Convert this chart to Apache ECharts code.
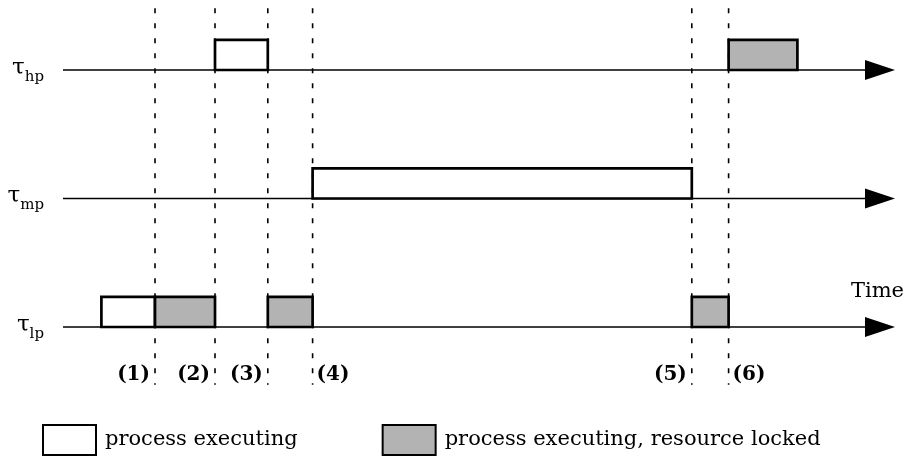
<!DOCTYPE html>
<html><head><meta charset="utf-8">
<script src="https://cdn.jsdelivr.net/npm/echarts@6/dist/echarts.min.js"></script>
<style>html,body{margin:0;padding:0;background:#fff}#c{width:908px;height:457px}</style>
</head><body><div id="c"></div>
<script>
// ---- Data ----
const rowNames = ['lp', 'mp', 'hp'];          // row values 1, 2, 3
const rowValues = [1, 2, 3];
const timeRange = [0, 52];
// [start, end, row]
const executing = [
  [2.4, 5.75, 1],
  [9.5, 12.8, 3],
  [15.6, 39.3, 2]
];
const locked = [
  [5.75, 9.5, 1],
  [12.8, 15.6, 1],
  [39.3, 41.6, 1],
  [41.6, 45.9, 3]
];
const events = [5.75, 9.5, 12.8, 15.6, 39.3, 41.6];
const eventLabels = ['(1)', '(2)', '(3)', '(4)', '(5)', '(6)'];
const seriesNames = ['process executing', 'process executing, resource locked'];
const axisName = 'Time';

// ---- Rendering ----
const FONT = 'DejaVu Serif';
const BOX_H = 0.235;
const DASH_TOP = 3.48, DASH_BOTTOM = 0.55, LABEL_ROW = 0.625;
const labelSide = ['left', 'left', 'left', 'right', 'left', 'right'];
const GRAY = '#b3b3b3';

function boxRenderer(fill) {
  return function (params, api) {
    const a = api.coord([api.value(0), api.value(2)]);
    const b = api.coord([api.value(1), api.value(2) + BOX_H]);
    return {
      type: 'rect',
      shape: { x: a[0], y: b[1], width: b[0] - a[0], height: a[1] - b[1] },
      style: { fill: fill, stroke: '#000', lineWidth: 2.7 }
    };
  };
}

const chart = echarts.init(document.getElementById('c'), null, { renderer: 'canvas' });
chart.setOption({
  animation: false,
  backgroundColor: '#fff',
  grid: { left: 63, right: 13, top: 70, bottom: 130 },
  xAxis: {
    type: 'value', min: timeRange[0], max: timeRange[1],
    axisLine: { show: false }, axisTick: { show: false }, axisLabel: { show: false }, splitLine: { show: false },
    name: axisName, nameLocation: 'end', nameGap: 9,
    nameTextStyle: { fontFamily: FONT, fontSize: 21, color: '#000', align: 'right', verticalAlign: 'bottom', padding: [0, 0, 25, 0] }
  },
  yAxis: {
    type: 'value', min: 1, max: 3, interval: 1,
    axisLine: { show: false }, axisTick: { show: false }, splitLine: { show: false },
    axisLabel: {
      margin: 19,
      formatter: v => '{t|τ}{s|' + rowNames[rowValues.indexOf(v)] + '}',
      rich: {
        t: { fontFamily: FONT, fontSize: 23, color: '#000', padding: [0, 0, 4, 0] },
        s: { fontFamily: FONT, fontSize: 15, color: '#000', padding: [14, 0, 0, 0] }
      }
    }
  },
  legend: {
    left: 42, top: 424, padding: 0, itemWidth: 53, itemHeight: 30, itemGap: 84, icon: 'rect',
    selectedMode: false,
    textStyle: { fontFamily: FONT, fontSize: 21, color: '#000', padding: [0, 0, 0, 4] },
    data: [
      { name: seriesNames[0], itemStyle: { color: '#fff', borderColor: '#000', borderWidth: 2 } },
      { name: seriesNames[1], itemStyle: { color: GRAY, borderColor: '#000', borderWidth: 2 } }
    ]
  },
  series: [
    {
      type: 'custom', silent: true,
      data: rowValues.map(r => [timeRange[0], timeRange[1], r]),
      encode: { x: [0, 1], y: 2 },
      renderItem: function (params, api) {
        const a = api.coord([api.value(0), api.value(2)]);
        const b = api.coord([api.value(1), api.value(2)]);
        return {
          type: 'group', children: [
            { type: 'line', shape: { x1: a[0], y1: a[1], x2: b[0] - 20, y2: b[1] }, style: { stroke: '#000', lineWidth: 1.5 } },
            { type: 'polygon', shape: { points: [[b[0] - 30, b[1] - 10], [b[0], b[1]], [b[0] - 30, b[1] + 10]] }, style: { fill: '#000' } }
          ]
        };
      }
    },
    {
      type: 'custom', silent: true,
      data: events.map((t, i) => [t, i]),
      encode: { x: 0 },
      renderItem: function (params, api) {
        const t = api.value(0), i = api.value(1);
        const top = api.coord([t, DASH_TOP]);
        const bot = api.coord([t, DASH_BOTTOM]);
        const lab = api.coord([t, LABEL_ROW]);
        const left = labelSide[i] === 'left';
        return {
          type: 'group', children: [
            { type: 'line', shape: { x1: top[0], y1: top[1], x2: bot[0], y2: bot[1] }, style: { stroke: '#000', lineWidth: 1.6, lineDash: [5, 10] } },
            { type: 'text', x: lab[0] + (left ? -5 : 4), y: lab[1],
              style: { text: eventLabels[i], font: 'bold 20px "' + FONT + '"', fill: '#000', align: left ? 'right' : 'left', verticalAlign: 'middle' } }
          ]
        };
      }
    },
    { type: 'custom', name: seriesNames[0], itemStyle: { color: '#fff' }, data: executing, encode: { x: [0, 1], y: 2 }, renderItem: boxRenderer('#fff') },
    { type: 'custom', name: seriesNames[1], itemStyle: { color: GRAY }, data: locked, encode: { x: [0, 1], y: 2 }, renderItem: boxRenderer(GRAY) }
  ]
});
</script>
</body></html>
